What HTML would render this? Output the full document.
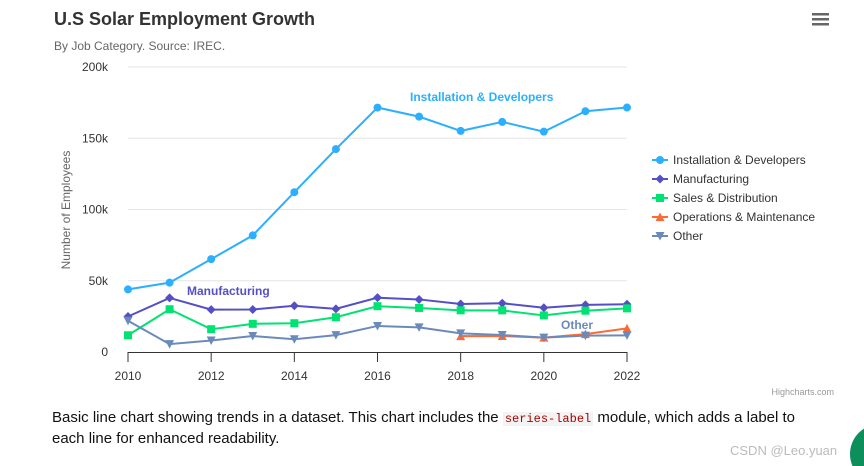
<!DOCTYPE html>
<html><head><meta charset="utf-8"><style>
body{margin:0;width:864px;height:466px;background:#fff;overflow:hidden;font-family:"Liberation Sans",sans-serif;position:relative}
.desc{position:absolute;left:52px;top:408px;font-size:15px;line-height:20px;color:#111;width:745px}
code{font-family:"Liberation Mono",monospace;font-size:12px;color:#a00;background:#f3f3f3;padding:0 2px}
.wm{position:absolute;left:730px;top:443px;font-size:13px;color:#bbb}
.dotwrap{position:absolute;left:850px;top:420px;width:14px;height:46px;overflow:hidden}
.dot{position:absolute;left:0;top:4px;width:60px;height:60px;border-radius:50%;background:#0c8f5a}
</style></head><body>
<svg id="chart" width="864" height="400" style="position:absolute;left:0;top:0">
<text x="54" y="25" font-size="18" font-weight="bold" fill="#333">U.S Solar Employment Growth</text>
<text x="54" y="50" font-size="12" fill="#666">By Job Category. Source: IREC.</text>
<g><rect x="812" y="13" width="17" height="2.5" fill="#666"/><rect x="812" y="18" width="17" height="2.5" fill="#666"/><rect x="812" y="23" width="17" height="2.5" fill="#666"/></g>
<text transform="translate(70,210) rotate(-90)" text-anchor="middle" font-size="12" fill="#666">Number of Employees</text>
<g id="grid"></g><g id="series"></g><g id="legend"></g>
<text x="834" y="395" text-anchor="end" font-size="9" fill="#999">Highcharts.com</text>
</svg>
<div class="desc">Basic line chart showing trends in a dataset. This chart includes the <code>series-label</code> module, which adds a label to each line for enhanced readability.</div>
<div class="wm">CSDN @Leo.yuan</div>
<div class="dotwrap"><div class="dot"></div></div>
<script>
const years=[2010,2011,2012,2013,2014,2015,2016,2017,2018,2019,2020,2021,2022];
const yTicks=[0,50000,100000,150000,200000];
const yTickLabels=["0","50k","100k","150k","200k"];
const xTickYears=[2010,2012,2014,2016,2018,2020,2022];
const seriesNames=["Installation & Developers","Manufacturing","Sales & Distribution","Operations & Maintenance","Other"];
const installation=[43934,48656,65165,81827,112143,142383,171533,165174,155157,161454,154610,168960,171558];
const manufacturing=[24916,37941,29742,29851,32490,30282,38121,36885,33726,34243,31050,33099,33473];
const sales=[11744,30000,16005,19771,20185,24377,32147,30912,29243,29213,25663,28978,30618];
const operations=[null,null,null,null,null,null,null,null,11164,11218,10077,12530,16585];
const other=[21908,5548,8105,11248,8989,11816,18274,17300,13053,11906,10073,11471,11648];
const allSeries=[installation,manufacturing,sales,operations,other];
const colors=["#2caffe","#544fc5","#00e272","#fe6a35","#6b8abc"];
const symbols=["circle","diamond","square","triangle","triangle-down"];
const NS="http://www.w3.org/2000/svg";
const X=y=>128+(y-2010)*(627-128)/12;
const Y=v=>352-v*(352-67)/200000;
function el(t,a,p){const e=document.createElementNS(NS,t);for(const k in a)e.setAttribute(k,a[k]);p.appendChild(e);return e;}
const grid=document.getElementById('grid');
yTicks.forEach((t,i)=>{
 if(i>0){const l=el('line',{x1:128,x2:627,y1:Y(t),y2:Y(t),stroke:'#e6e6e6'},grid);
 
 }
 const tx=el('text',{x:108,y:Y(t)+4,'text-anchor':'end','font-size':12,fill:'#333'},grid);tx.textContent=yTickLabels[i];
 
 
});
el('line',{x1:128,x2:627,y1:352.5,y2:352.5,stroke:'#333'},grid);
xTickYears.forEach(y=>{
 el('line',{x1:X(y),x2:X(y),y1:352,y2:362,stroke:'#333'},grid);
 const tx=el('text',{x:X(y),y:380,'text-anchor':'middle','font-size':12,fill:'#333'},grid);tx.textContent=y;
 
 
});
function marker(s,x,y,c,p){
 if(s=='circle')return el('circle',{cx:x,cy:y,r:4,fill:c},p);
 if(s=='square')return el('rect',{x:x-4,y:y-4,width:8,height:8,fill:c},p);
 if(s=='diamond')return el('path',{d:`M${x} ${y-4.5}L${x+4.5} ${y}L${x} ${y+4.5}L${x-4.5} ${y}Z`,fill:c},p);
 if(s=='triangle')return el('path',{d:`M${x} ${y-4.5}L${x+4.5} ${y+4}L${x-4.5} ${y+4}Z`,fill:c},p);
 return el('path',{d:`M${x} ${y+4.5}L${x+4.5} ${y-4}L${x-4.5} ${y-4}Z`,fill:c},p);
}
const sg=document.getElementById('series');
allSeries.forEach((d,i)=>{
 const g=el('g',{},sg);
 
 
 const pts=[];d.forEach((v,j)=>{if(v!=null)pts.push([X(years[j]),Y(v)]);});
 el('polyline',{points:pts.map(p=>p.join(',')).join(' '),fill:'none',stroke:colors[i],'stroke-width':2},g);
 pts.forEach(p=>{const m=marker(symbols[i],p[0],p[1],colors[i],g);
 
 });
});
[["Installation & Developers",410,101,0],["Manufacturing",187,295,1],["Other",561,329,4]].forEach(l=>{
 const t=el('text',{x:l[1],y:l[2],'font-size':12,'font-weight':'bold',fill:colors[l[3]]},sg);t.textContent=l[0];
 
 
});
const lg=document.getElementById('legend');
seriesNames.forEach((n,i)=>{
 const y=160+i*19;
 const g=el('g',{},lg);
 
 
 el('line',{x1:652,x2:668,y1:y,y2:y,stroke:colors[i],'stroke-width':2},g);
 marker(symbols[i],660,y,colors[i],g);
 const t=el('text',{x:673,y:y+4,'font-size':12,fill:'#333'},g);t.textContent=n;
});
</script>
</body></html>
